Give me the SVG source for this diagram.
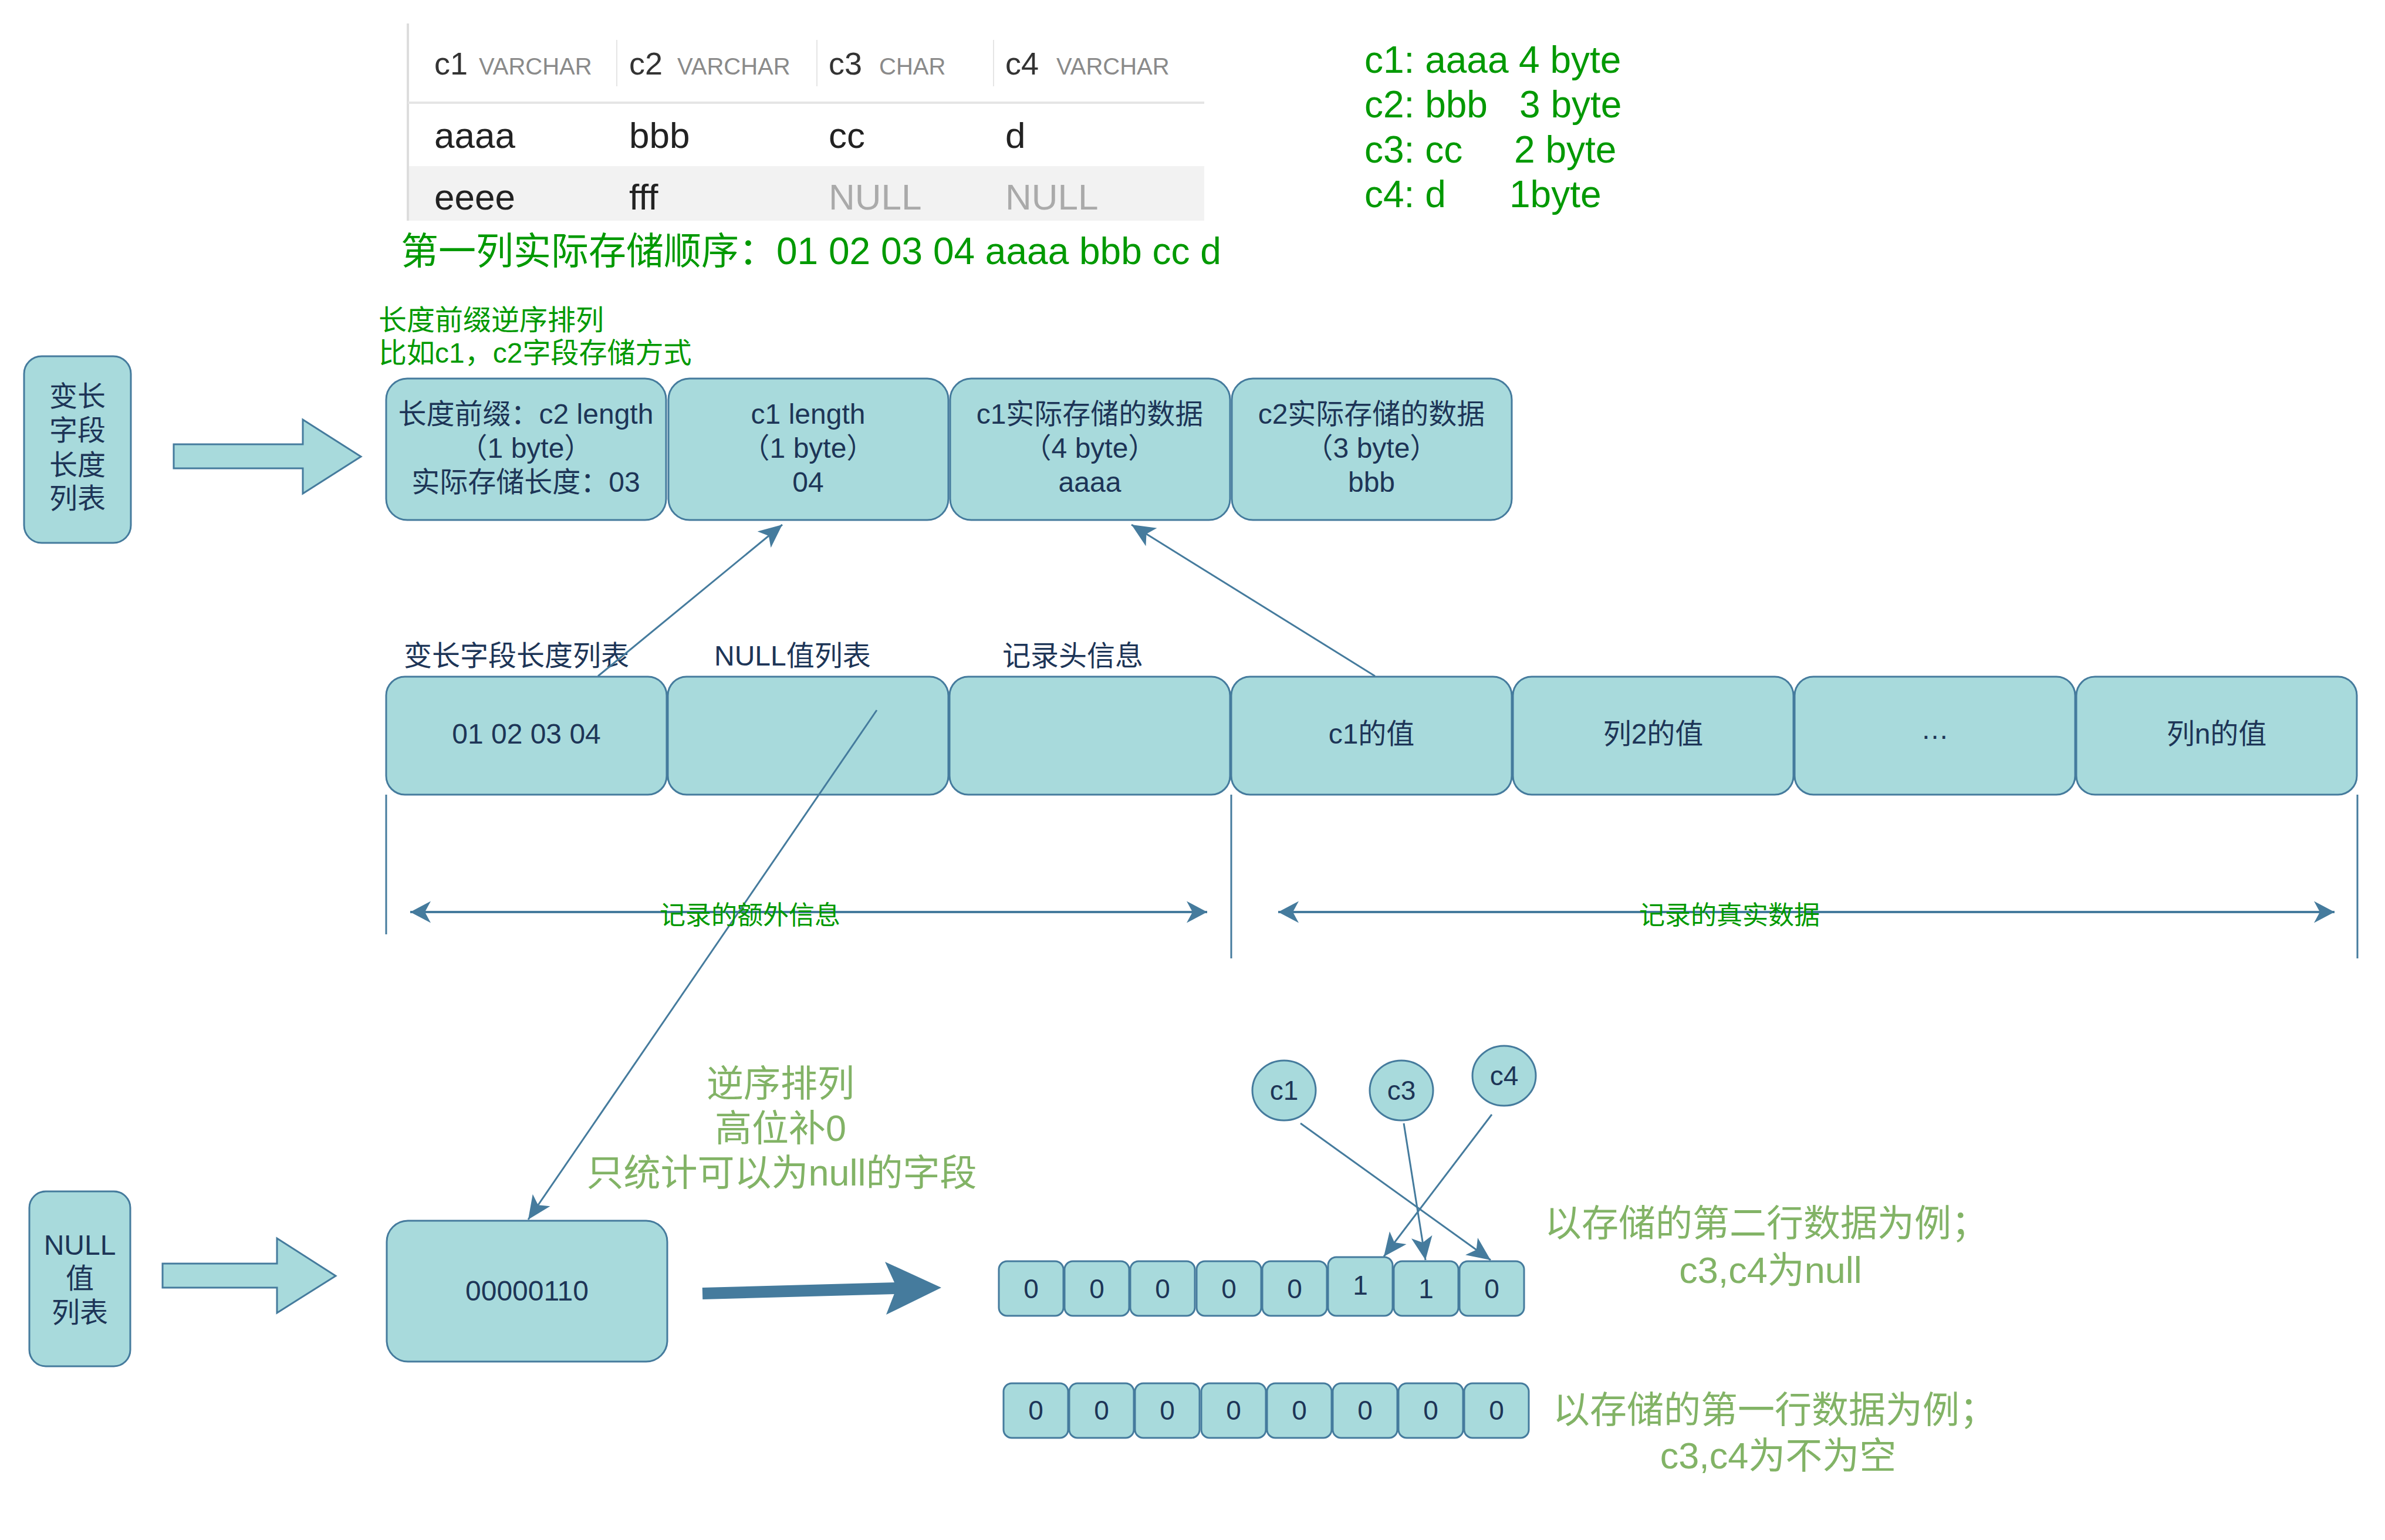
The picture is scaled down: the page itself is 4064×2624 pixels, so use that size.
<svg xmlns="http://www.w3.org/2000/svg" width="4064" height="2624" viewBox="0 0 4064 2624">
<defs>
<style>
.box{fill:#A8DADC;stroke:#457B9D;stroke-width:3}
.t{font-family:"Liberation Sans","Noto Sans CJK SC",sans-serif;fill:#1D3557;font-size:48px}
.s{font-size:46px}
.c{text-anchor:middle}
.g{fill:#009900}
.lg{fill:#82B366}
.ln{stroke:#457B9D;stroke-width:3;fill:none}
.tb{font-family:"Liberation Sans","Noto Sans CJK SC",sans-serif}
.hd{font-size:54px;fill:#333333}
.ty{font-size:40px;fill:#8a8a8a}
.cell{font-size:62px;fill:#222222}
.nul{font-size:62px;fill:#aaaaaa}
</style>
<marker id="arr" markerUnits="userSpaceOnUse" markerWidth="44" markerHeight="40" refX="40" refY="18" orient="auto" overflow="visible">
<path d="M0,0 L40,18 L0,36 L10,18 Z" fill="#457B9D"/>
</marker>
<marker id="dar" markerUnits="userSpaceOnUse" markerWidth="38" markerHeight="38" refX="35" refY="18.5" orient="auto-start-reverse" overflow="visible">
<path d="M0,0 L35,18.5 L0,37 L10,18.5 Z" fill="#457B9D"/>
</marker>
</defs>
<rect width="4064" height="2624" fill="#ffffff"/>

<!-- table -->
<g id="table" class="tb">
<rect x="696" y="283" width="1356" height="93" fill="#f2f2f2"/>
<line x1="695" y1="40" x2="695" y2="376" stroke="#dddddd" stroke-width="4"/>
<line x1="695" y1="175" x2="2052" y2="175" stroke="#e5e5e5" stroke-width="4"/>
<line x1="1051" y1="68" x2="1051" y2="147" stroke="#e5e5e5" stroke-width="2"/>
<line x1="1392" y1="68" x2="1392" y2="147" stroke="#e5e5e5" stroke-width="2"/>
<line x1="1693" y1="68" x2="1693" y2="147" stroke="#e5e5e5" stroke-width="2"/>
<text x="740" y="127" class="hd">c1</text><text x="816" y="127" class="ty">VARCHAR</text>
<text x="1072" y="127" class="hd">c2</text><text x="1154" y="127" class="ty">VARCHAR</text>
<text x="1412" y="127" class="hd">c3</text><text x="1498" y="127" class="ty">CHAR</text>
<text x="1713" y="127" class="hd">c4</text><text x="1800" y="127" class="ty">VARCHAR</text>
<text x="740" y="252" class="cell">aaaa</text>
<text x="1072" y="252" class="cell">bbb</text>
<text x="1412" y="252" class="cell">cc</text>
<text x="1713" y="252" class="cell">d</text>
<text x="740" y="357" class="cell">eeee</text>
<text x="1072" y="357" class="cell">fff</text>
<text x="1412" y="357" class="nul">NULL</text>
<text x="1713" y="357" class="nul">NULL</text>
</g>

<g id="notes" class="t g">
<text x="683" y="450" style="font-size:64px">第一列实际存储顺序：01 02 03 04 aaaa bbb cc d</text>
<text style="font-size:64px"><tspan x="2325" y="124">c1: aaaa</tspan><tspan x="2588" y="124">4 byte</tspan></text>
<text style="font-size:64px"><tspan x="2325" y="200">c2: bbb</tspan><tspan x="2589" y="200">3 byte</tspan></text>
<text style="font-size:64px"><tspan x="2325" y="277">c3: cc</tspan><tspan x="2580" y="277">2 byte</tspan></text>
<text style="font-size:64px"><tspan x="2325" y="353">c4: d</tspan><tspan x="2572" y="353">1byte</tspan></text>
<text x="645" y="562">长度前缀逆序排列</text>
<text x="645" y="618">比如c1，c2字段存储方式</text>
</g>

<!-- variable length list section -->
<g id="varlist">
<rect class="box" x="41" y="607" width="182" height="318" rx="30"/>
<text class="t c" x="132" y="692">变长</text>
<text class="t c" x="132" y="750">字段</text>
<text class="t c" x="132" y="809">长度</text>
<text class="t c" x="132" y="866">列表</text>
</g>
<g id="blockarrow1">
<path class="box" d="M296,757 L516,757 L516,715 L615,778 L516,841 L516,798 L296,798 Z"/>
</g>

<g id="prefix-c2">
<rect class="box" x="658" y="645" width="477" height="241" rx="36"/>
<text class="t c" x="896" y="722">长度前缀：c2 length</text>
<text class="t c" x="896" y="780">（1 byte）</text>
<text class="t c" x="896" y="838">实际存储长度：03</text>
</g>
<g id="prefix-c1">
<rect class="box" x="1139" y="645" width="477" height="241" rx="36"/>
<text class="t c" x="1377" y="722">c1 length</text>
<text class="t c" x="1377" y="780">（1 byte）</text>
<text class="t c" x="1377" y="838">04</text>
</g>
<g id="data-c1">
<rect class="box" x="1619" y="645" width="477" height="241" rx="36"/>
<text class="t c" x="1857" y="722">c1实际存储的数据</text>
<text class="t c" x="1857" y="780">（4 byte）</text>
<text class="t c" x="1857" y="838">aaaa</text>
</g>
<g id="data-c2">
<rect class="box" x="2099" y="645" width="477" height="241" rx="36"/>
<text class="t c" x="2337" y="722">c2实际存储的数据</text>
<text class="t c" x="2337" y="780">（3 byte）</text>
<text class="t c" x="2337" y="838">bbb</text>
</g>

<!-- record row -->
<g id="row-labels" class="t">
<text x="688" y="1134">变长字段长度列表</text>
<text x="1217" y="1134">NULL值列表</text>
<text x="1708" y="1134">记录头信息</text>
</g>
<g id="rec-varlen"><rect class="box" x="658" y="1153" width="478" height="201" rx="32"/><text class="t c" x="897" y="1267">01 02 03 04</text></g>
<g id="rec-null"><rect class="box" x="1138" y="1153" width="478" height="201" rx="32"/></g>
<g id="rec-header"><rect class="box" x="1618" y="1153" width="478" height="201" rx="32"/></g>
<g id="rec-c1"><rect class="box" x="2098" y="1153" width="478" height="201" rx="32"/><text class="t c" x="2337" y="1267">c1的值</text></g>
<g id="rec-col2"><rect class="box" x="2578" y="1153" width="478" height="201" rx="32"/><text class="t c" x="2817" y="1267">列2的值</text></g>
<g id="rec-dots"><rect class="box" x="3058" y="1153" width="478" height="201" rx="32"/><text class="t c" x="3297" y="1259">…</text></g>
<g id="rec-coln"><rect class="box" x="3538" y="1153" width="478" height="201" rx="32"/><text class="t c" x="3777" y="1267">列n的值</text></g>

<!-- null section -->
<g id="nulllist">
<rect class="box" x="50" y="2030" width="172" height="298" rx="28"/>
<text class="t c" x="136" y="2138">NULL</text>
<text class="t c" x="136" y="2195">值</text>
<text class="t c" x="136" y="2253">列表</text>
</g>
<g id="blockarrow2">
<path class="box" d="M277,2153 L472,2153 L472,2110 L572,2174 L472,2237 L472,2194 L277,2194 Z"/>
</g>
<g id="bitmap">
<rect class="box" x="659" y="2080" width="478" height="240" rx="36"/>
<text class="t c" x="898" y="2216">00000110</text>
</g>

<g id="notes2" class="t lg c" style="font-size:63px">
<text x="1330" y="1868">逆序排列</text>
<text x="1330" y="1944">高位补0</text>
<text x="1332" y="2020">只统计可以为null的字段</text>
</g>
<g id="notes3" class="t lg c" style="font-size:63px">
<text x="3010" y="2106">以存储的第二行数据为例；</text>
<text x="3017" y="2186">c3,c4为null</text>
<text x="3024" y="2424">以存储的第一行数据为例；</text>
<text x="3030" y="2502">c3,c4为不为空</text>
</g>

<g id="circle-c1"><ellipse class="box" cx="2188" cy="1858" rx="54" ry="51"/><text class="t s c" x="2188" y="1874">c1</text></g>
<g id="circle-c3"><ellipse class="box" cx="2388" cy="1858" rx="54" ry="51"/><text class="t s c" x="2388" y="1874">c3</text></g>
<g id="circle-c4"><ellipse class="box" cx="2563" cy="1833" rx="54" ry="51"/><text class="t s c" x="2563" y="1849">c4</text></g>

<g id="bits-row2nd" class="s">
<rect class="box" x="1702" y="2149" width="110" height="93" rx="14"/><text class="t s c" x="1757" y="2212">0</text>
<rect class="box" x="1814" y="2149" width="110" height="93" rx="14"/><text class="t s c" x="1869" y="2212">0</text>
<rect class="box" x="1926" y="2149" width="110" height="93" rx="14"/><text class="t s c" x="1981" y="2212">0</text>
<rect class="box" x="2039" y="2149" width="110" height="93" rx="14"/><text class="t s c" x="2094" y="2212">0</text>
<rect class="box" x="2151" y="2149" width="110" height="93" rx="14"/><text class="t s c" x="2206" y="2212">0</text>
<rect class="box" x="2263" y="2142" width="110" height="100" rx="14"/><text class="t s c" x="2318" y="2206">1</text>
<rect class="box" x="2375" y="2149" width="110" height="93" rx="14"/><text class="t s c" x="2430" y="2212">1</text>
<rect class="box" x="2487" y="2149" width="110" height="93" rx="14"/><text class="t s c" x="2542" y="2212">0</text>
</g>
<g id="bits-row1st">
<rect class="box" x="1710" y="2357" width="110" height="93" rx="14"/><text class="t s c" x="1765" y="2419">0</text>
<rect class="box" x="1822" y="2357" width="110" height="93" rx="14"/><text class="t s c" x="1877" y="2419">0</text>
<rect class="box" x="1934" y="2357" width="110" height="93" rx="14"/><text class="t s c" x="1989" y="2419">0</text>
<rect class="box" x="2047" y="2357" width="110" height="93" rx="14"/><text class="t s c" x="2102" y="2419">0</text>
<rect class="box" x="2159" y="2357" width="110" height="93" rx="14"/><text class="t s c" x="2214" y="2419">0</text>
<rect class="box" x="2271" y="2357" width="110" height="93" rx="14"/><text class="t s c" x="2326" y="2419">0</text>
<rect class="box" x="2383" y="2357" width="110" height="93" rx="14"/><text class="t s c" x="2438" y="2419">0</text>
<rect class="box" x="2495" y="2357" width="110" height="93" rx="14"/><text class="t s c" x="2550" y="2419">0</text>
</g>

<g id="connectors">
<line class="ln" x1="1019" y1="1152" x2="1333" y2="894" marker-end="url(#arr)"/>
<line class="ln" x1="2343" y1="1152" x2="1928" y2="894" marker-end="url(#arr)"/>
<line class="ln" x1="1494" y1="1210" x2="900" y2="2078" marker-end="url(#arr)"/>
<line class="ln" x1="658" y1="1354" x2="658" y2="1592"/>
<line class="ln" x1="2098" y1="1354" x2="2098" y2="1633"/>
<line class="ln" x1="4017" y1="1354" x2="4017" y2="1633"/>
<line x1="699" y1="1554" x2="2057" y2="1554" stroke="#457B9D" stroke-width="4" marker-start="url(#dar)" marker-end="url(#dar)"/>
<line x1="2178" y1="1554" x2="3978" y2="1554" stroke="#457B9D" stroke-width="4" marker-start="url(#dar)" marker-end="url(#dar)"/>
<text class="t g c" x="1278" y="1575" style="font-size:44px">记录的额外信息</text>
<text class="t g c" x="2947" y="1575" style="font-size:44px">记录的真实数据</text>
<line x1="1197" y1="2204" x2="1530" y2="2195" stroke="#457B9D" stroke-width="20"/>
<path d="M1604,2194 L1508,2150 L1528,2194 L1510,2240 Z" fill="#457B9D"/>
<line class="ln" x1="2216" y1="1914" x2="2540" y2="2147" marker-end="url(#arr)"/>
<line class="ln" x1="2392" y1="1914" x2="2429" y2="2147" marker-end="url(#arr)"/>
<line class="ln" x1="2542" y1="1899" x2="2358" y2="2141" marker-end="url(#arr)"/>
</g>
</svg>
